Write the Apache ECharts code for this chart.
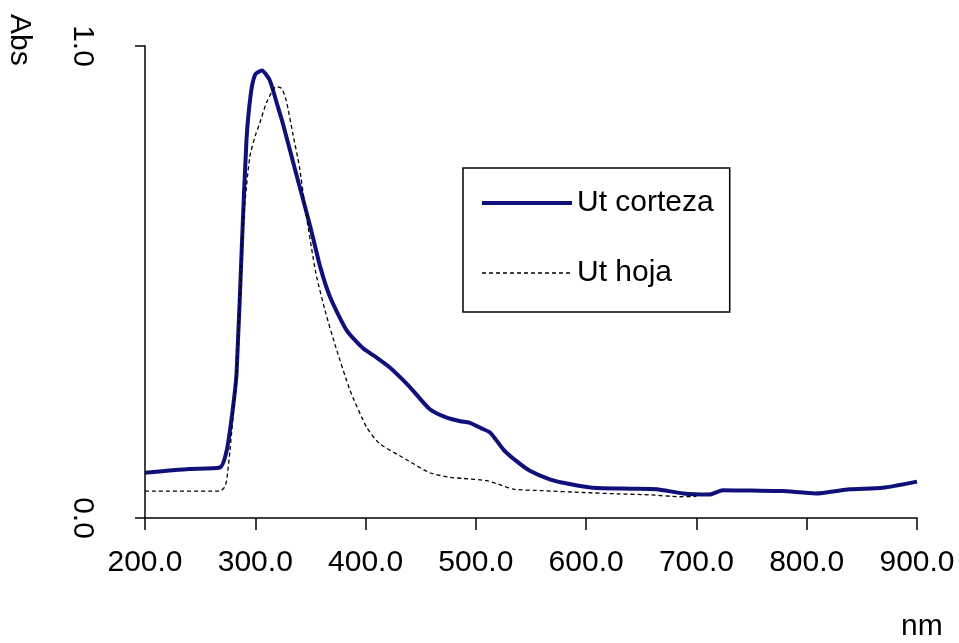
<!DOCTYPE html>
<html>
<head>
<meta charset="utf-8">
<title>Abs spectra</title>
<script src="https://cdn.jsdelivr.net/npm/echarts@6/dist/echarts.min.js"></script>
<style>
html, body { margin: 0; padding: 0; background: #fff; }
#myChart { width: 959px; height: 643px; }
</style>
</head>
<body>
<div id="myChart"></div>
<script>
// wavelength (nm) / absorbance
const cortezaNm = [200, 220, 240, 268, 274, 279, 283, 288, 292, 296, 300, 306, 313, 320, 325, 337, 350, 359, 368, 383, 398, 410, 422, 435, 443, 458, 473, 486, 494, 505, 513, 525, 536, 549, 567, 585, 606, 640, 664, 688, 712, 724, 750, 778, 808, 839, 869, 900];
const cortezaAbs = [0.096, 0.100, 0.104, 0.107, 0.142, 0.22, 0.306, 0.588, 0.80, 0.90, 0.940, 0.948, 0.928, 0.875, 0.836, 0.73, 0.616, 0.531, 0.467, 0.397, 0.359, 0.34, 0.319, 0.29, 0.27, 0.231, 0.213, 0.205, 0.202, 0.19, 0.181, 0.145, 0.122, 0.100, 0.082, 0.072, 0.064, 0.062, 0.061, 0.052, 0.050, 0.059, 0.058, 0.057, 0.052, 0.061, 0.064, 0.077];

const hojaNm = [200, 268, 272, 274, 277, 283, 289, 295, 300, 304, 310, 319, 324, 328, 334, 340, 346, 355, 364, 373, 386, 401, 413, 434, 458, 477, 488, 510, 520, 534, 560, 597, 630, 658, 685, 700];
const hojaAbs = [0.057, 0.057, 0.065, 0.079, 0.142, 0.306, 0.624, 0.765, 0.81, 0.836, 0.879, 0.914, 0.91, 0.885, 0.815, 0.744, 0.645, 0.518, 0.433, 0.362, 0.27, 0.192, 0.157, 0.128, 0.096, 0.086, 0.084, 0.079, 0.072, 0.061, 0.058, 0.054, 0.051, 0.049, 0.045, 0.046];

const seriesNames = ['Ut corteza', 'Ut hoja'];
const xTitle = 'nm';
const yTitle = 'Abs';

const font = 'Liberation Sans, Arial, sans-serif';
const pairs = (xs, ys) => xs.map((x, i) => [x, ys[i]]);

const myChart = echarts.init(document.getElementById('myChart'));
const option = {
    backgroundColor: '#fff',
    animation: false,
    grid: {
        left: 145,
        right: 42,
        top: 46,
        bottom: 125
    },
    legend: {
        orient: 'vertical',
        left: 463,
        top: 168,
        padding: [20, 16, 24, 17],
        itemWidth: 90,
        itemHeight: 30,
        itemGap: 40,
        borderColor: '#000',
        borderWidth: 1.5,
        borderRadius: 0,
        data: [
            { name: seriesNames[0], itemStyle: { opacity: 0 }, lineStyle: { width: 4 } },
            { name: seriesNames[1], itemStyle: { opacity: 0 }, lineStyle: { width: 1.3 } }
        ],
        textStyle: {
            color: '#000',
            fontSize: 30,
            fontFamily: font
        }
    },
    xAxis: {
        type: 'value',
        min: 200,
        max: 900,
        interval: 100,
        splitLine: { show: false },
        axisLine: { onZero: false, lineStyle: { color: '#000', width: 1.5 } },
        axisTick: { show: true, length: 12, lineStyle: { color: '#000', width: 1.5 } },
        axisLabel: {
            margin: 30,
            color: '#000',
            fontSize: 30,
            fontFamily: font,
            formatter: v => v.toFixed(1)
        }
    },
    yAxis: {
        type: 'value',
        min: 0,
        max: 1,
        interval: 1,
        splitLine: { show: false },
        axisLine: { show: true, lineStyle: { color: '#000', width: 1.5 } },
        axisTick: { show: true, length: 10, lineStyle: { color: '#000', width: 1.5 } },
        axisLabel: {
            rotate: -90,
            margin: 48,
            color: '#000',
            fontSize: 30,
            fontFamily: font,
            formatter: v => v.toFixed(1)
        }
    },
    graphic: [
        {
            type: 'text',
            x: 34,
            y: 14,
            rotation: -Math.PI / 2,
            style: { text: yTitle, fill: '#000', fontSize: 30, fontFamily: font }
        },
        {
            type: 'text',
            left: 901,
            top: 612,
            style: { text: xTitle, fill: '#000', fontSize: 30, fontFamily: font }
        }
    ],
    series: [
        {
            name: seriesNames[0],
            type: 'line',
            symbol: 'none',
            smooth: 0.2,
            color: '#10107a',
            lineStyle: { width: 4, color: '#10107a' },
            data: pairs(cortezaNm, cortezaAbs)
        },
        {
            name: seriesNames[1],
            type: 'line',
            symbol: 'none',
            smooth: 0.2,
            color: '#000',
            lineStyle: { width: 1.3, color: '#000', type: [4, 3] },
            data: pairs(hojaNm, hojaAbs)
        }
    ]
};
myChart.setOption(option);

window.addEventListener('resize', () => {
    myChart.resize();
});
</script>
</body>
</html>
